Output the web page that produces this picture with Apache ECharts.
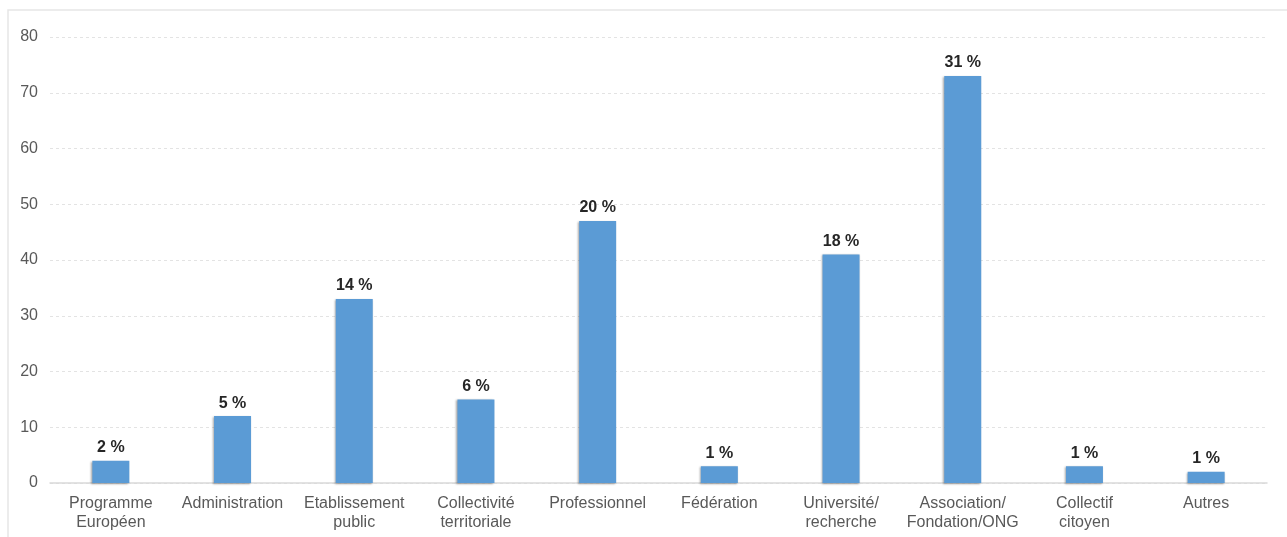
<!DOCTYPE html>
<html>
<head>
<meta charset="utf-8">
<script src="https://cdn.jsdelivr.net/npm/echarts@6/dist/echarts.min.js"></script>
<style>
html, body { margin: 0; padding: 0; background: #fff; }
#chart { width: 1287px; height: 537px; }
</style>
</head>
<body>
<div id="chart"></div>
<script>
const categories = ['Programme\nEuropéen', 'Administration', 'Etablissement\npublic', 'Collectivité\nterritoriale',
    'Professionnel', 'Fédération', 'Université/\nrecherche', 'Association/\nFondation/ONG', 'Collectif\ncitoyen', 'Autres']
const counts = [4, 12, 33, 15, 47, 3, 41, 73, 3, 2]
const percents = ['2 %', '5 %', '14 %', '6 %', '20 %', '1 %', '18 %', '31 %', '1 %', '1 %']

const myChart = echarts.init(document.getElementById('chart'))
myChart.setOption({
    animation: false,
    textStyle: { fontFamily: 'Liberation Sans, Arial, sans-serif' },
    graphic: [{
        type: 'rect',
        shape: { x: 8, y: 10, width: 1300, height: 600 },
        style: { fill: 'none', stroke: '#e6e6e6', lineWidth: 1.5 },
        silent: true
    }],
    grid: { left: 50, right: 20, top: 37, bottom: 54 },
    xAxis: {
        type: 'category',
        data: categories,
        axisTick: { show: false },
        axisLine: { lineStyle: { color: '#d9d9d9', width: 1.5 } },
        axisLabel: { color: '#595959', fontSize: 16, interval: 0, margin: 11, lineHeight: 19 }
    },
    yAxis: {
        type: 'value',
        min: 0,
        max: 80,
        interval: 10,
        axisLine: { show: false },
        axisTick: { show: false },
        axisLabel: { color: '#595959', fontSize: 16, margin: 12 },
        splitLine: { lineStyle: { color: '#e3e3e3', type: [3, 3] } }
    },
    series: [{
        type: 'bar',
        data: counts,
        barWidth: 37,
        itemStyle: {
            color: '#5b9bd5',
            shadowColor: 'rgba(0,0,0,0.35)',
            shadowBlur: 2,
            shadowOffsetX: -1,
            shadowOffsetY: 1
        },
        label: {
            show: true,
            position: 'top',
            distance: 5,
            color: '#262626',
            fontSize: 16,
            fontWeight: 'bold',
            formatter: p => percents[p.dataIndex]
        }
    }]
})
</script>
</body>
</html>
